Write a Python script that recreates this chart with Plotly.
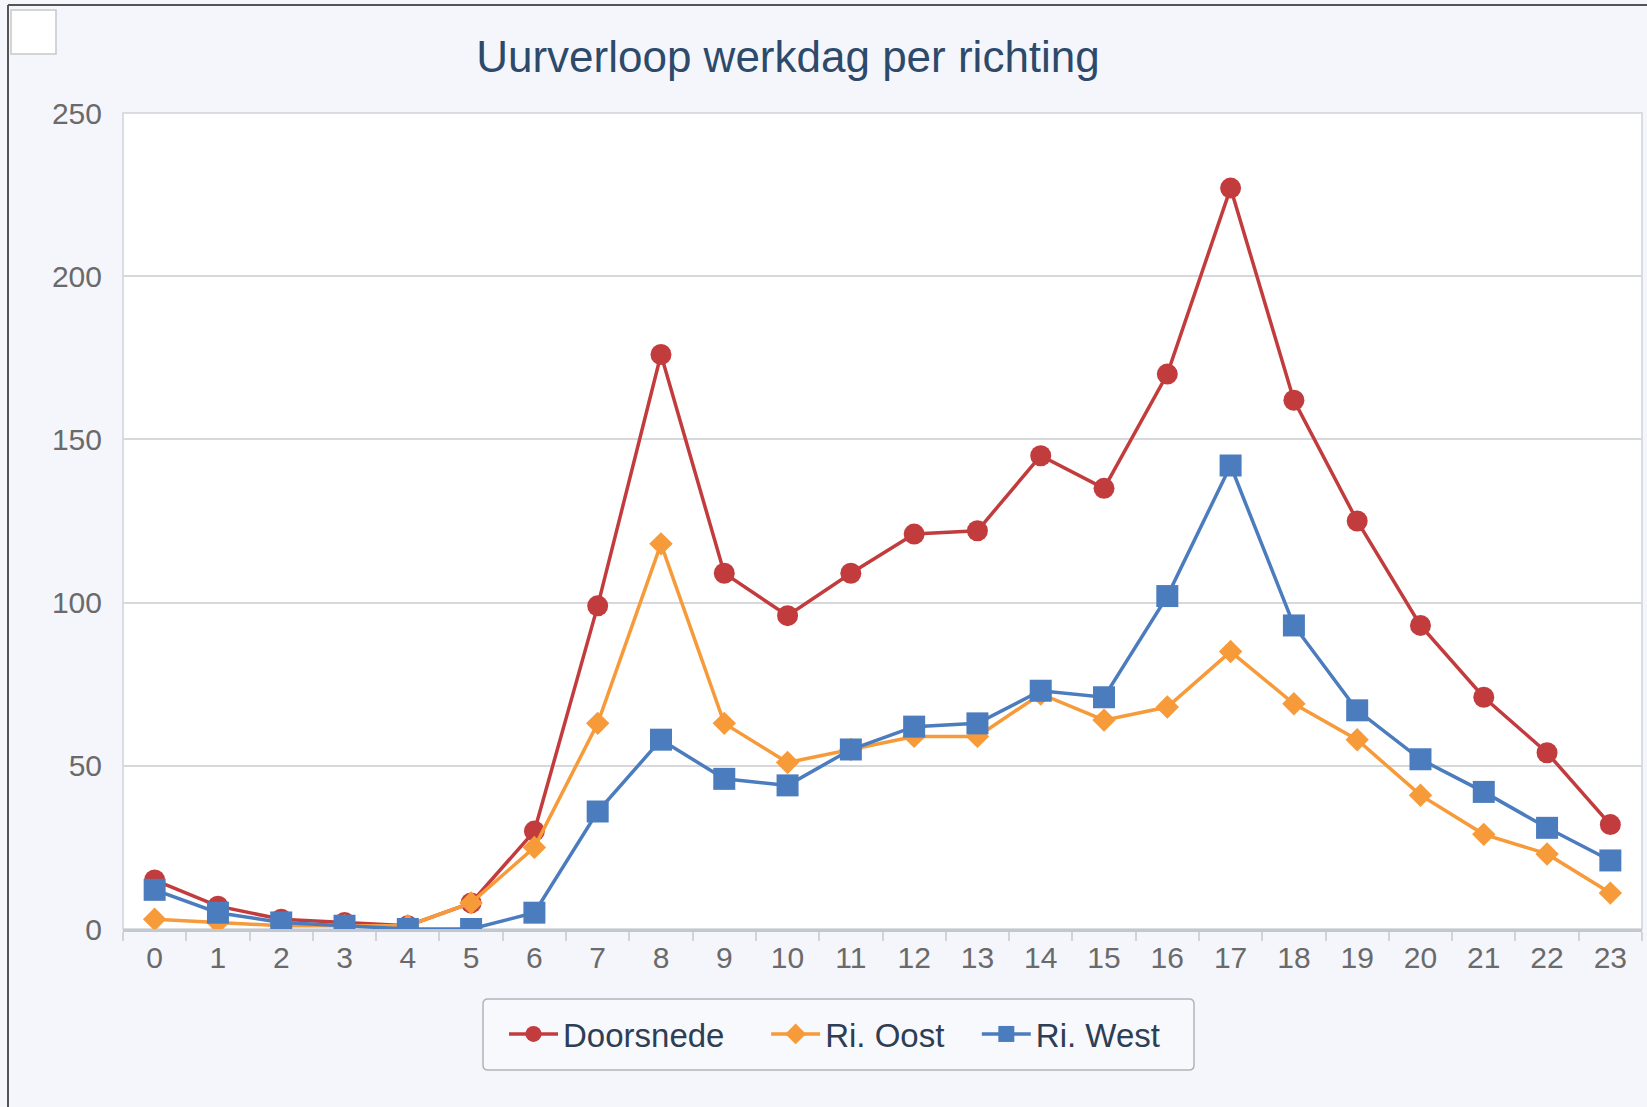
import plotly.graph_objects as go

hours = [str(h) for h in range(24)]
series_names = ["Doorsnede", "Ri. Oost", "Ri. West"]
doorsnede = [15, 7, 3, 2, 1, 8, 30, 99, 176, 109, 96, 109, 121, 122, 145, 135, 170, 227, 162, 125, 93, 71, 54, 32]
ri_oost = [3, 2, 1, 1, 1, 8, 25, 63, 118, 63, 51, 55, 59, 59, 72, 64, 68, 85, 69, 58, 41, 29, 23, 11]
ri_west = [12, 5, 2, 1, 0, 0, 5, 36, 58, 46, 44, 55, 62, 63, 73, 71, 102, 142, 93, 67, 52, 42, 31, 21]
y_ticks = [0, 50, 100, 150, 200, 250]

W, H = 1647, 1107
L, R, T, B = 123, 1642, 113, 929

def px(x):
    return (x - L) / (R - L)

def py(y):
    return (B - y) / (B - T)

def rounded_rect(x0, y0, x1, y1, r):
    def P(x, y):
        return f"{px(x):.5f},{py(y):.5f}"
    return (f"M {P(x0 + r, y0)} L {P(x1 - r, y0)} Q {P(x1, y0)} {P(x1, y0 + r)} "
            f"L {P(x1, y1 - r)} Q {P(x1, y1)} {P(x1 - r, y1)} "
            f"L {P(x0 + r, y1)} Q {P(x0, y1)} {P(x0, y1 - r)} "
            f"L {P(x0, y0 + r)} Q {P(x0, y0)} {P(x0 + r, y0)} Z")

fig = go.Figure()
fig.add_trace(go.Scatter(x=hours, y=doorsnede, name=series_names[0] + "\u00a0" * 4, mode="lines+markers",
                         line=dict(color="#c23c3e", width=3.5),
                         marker=dict(symbol="circle", size=21, color="#c23c3e")))
fig.add_trace(go.Scatter(x=hours, y=ri_oost, name=series_names[1] + "\u00a0" * 3, mode="lines+markers",
                         line=dict(color="#f69a3a", width=3.5),
                         marker=dict(symbol="diamond", size=18, color="#f69a3a")))
fig.add_trace(go.Scatter(x=hours, y=ri_west, name=series_names[2], mode="lines+markers",
                         line=dict(color="#4b7cbe", width=3.5),
                         marker=dict(symbol="square", size=22, color="#4b7cbe")))

shapes = [
    dict(type="rect", xref="paper", yref="paper", x0=0, x1=1, y0=0, y1=1,
         line=dict(color="#cfd2d8", width=1.5), layer="below"),
    dict(type="line", xref="paper", yref="paper", x0=px(8), x1=px(8), y0=py(5), y1=py(1107),
         line=dict(color="#555555", width=2)),
    dict(type="line", xref="paper", yref="paper", x0=px(8), x1=px(1647), y0=py(5), y1=py(5),
         line=dict(color="#555555", width=2)),
    dict(type="rect", xref="paper", yref="paper", x0=px(11), x1=px(56), y0=py(10), y1=py(54),
         line=dict(color="#c8c8cc", width=1.5), fillcolor="#ffffff"),
    dict(type="path", xref="paper", yref="paper", path=rounded_rect(483, 999, 1194, 1070, 5),
         line=dict(color="#b0b4ba", width=1.5), fillcolor="#f8f9fc"),
]

fig.update_layout(
    width=W, height=H,
    margin=dict(l=L, r=W - R, t=T, b=H - B),
    paper_bgcolor="#f5f6fb",
    plot_bgcolor="#ffffff",
    font=dict(family="Liberation Sans, Arial, sans-serif", color="#666666"),
    title=dict(text="Uurverloop werkdag per richting", x=788 / W, xref="container",
               y=1 - 57 / H, yref="container", xanchor="center", yanchor="middle",
               font=dict(size=44, color="#2d4a6b")),
    showlegend=True,
    legend=dict(orientation="h", x=px(504), xanchor="left", y=py(1034), yanchor="middle",
                bgcolor="rgba(0,0,0,0)", borderwidth=0, itemwidth=49,
                font=dict(size=33, color="#2d3e55")),
    xaxis=dict(type="category", range=[-0.5, 23.5], showgrid=False,
               showline=True, linecolor="#c2c8d0", linewidth=3,
               ticks="outside", tickson="boundaries", ticklen=9, tickcolor="#d0d4da", tickwidth=1.5,
               tickfont=dict(size=30, color="#6a6a6a"), zeroline=False),
    yaxis=dict(range=[0, 250], tickvals=y_ticks, showgrid=True,
               gridcolor="#d6d8dc", gridwidth=1.5, zeroline=False, ticks="",
               tickfont=dict(size=30, color="#6a6a6a"), ticklabelstandoff=20),
    shapes=shapes,
)

fig.write_html("out.html", config={"displayModeBar": False},
               post_script="document.body.style.margin='0';document.body.style.overflow='hidden';")
